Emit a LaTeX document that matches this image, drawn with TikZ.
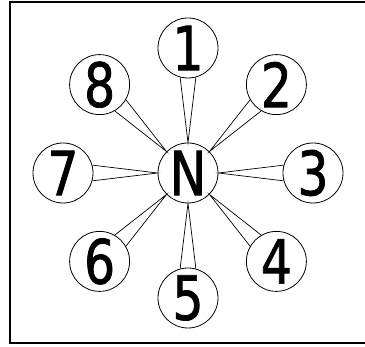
\documentclass[tikz,border=0pt]{standalone}
\usepackage{fontspec}
\newfontfamily\digitfont[FakeStretch=0.8, FakeBold=1.2]{DejaVu Sans}
\usepackage{tikz}
\usetikzlibrary{calc}

\begin{document}
\begin{tikzpicture}[
    x=1pt, y=1pt,
    hub/.style={draw, circle, line width=0.8pt, minimum size=60pt, inner sep=0pt,
        font=\digitfont\fontsize{61}{64}\selectfont},
    leaf/.style={hub},
    spoke/.style={line width=0.7pt}
]

% page size and frame (right side runs off the page)
\useasboundingbox (-188,-174) rectangle (177,173);
\draw[line width=2pt] (178,171) -- (-177.5,171) -- (-177.5,-170) -- (178,-170);

% centre node
\node[hub] (N) at (0,0) {N};

% outer nodes, clockwise from the top
\foreach \i/\ang in {1/90, 2/45, 3/0, 4/-45, 5/-90, 6/-135, 7/180, 8/135} {
    \node[leaf] (c\i) at (\ang:125) {\i};
    % tapered spoke: apex on N, base on the outer circle
    \pgfmathsetmacro{\lo}{\ang+165}
    \pgfmathsetmacro{\hi}{\ang+195}
    \draw[spoke] (c\i.\lo) -- (N.\ang) -- (c\i.\hi);
}

\end{tikzpicture}
\end{document}
